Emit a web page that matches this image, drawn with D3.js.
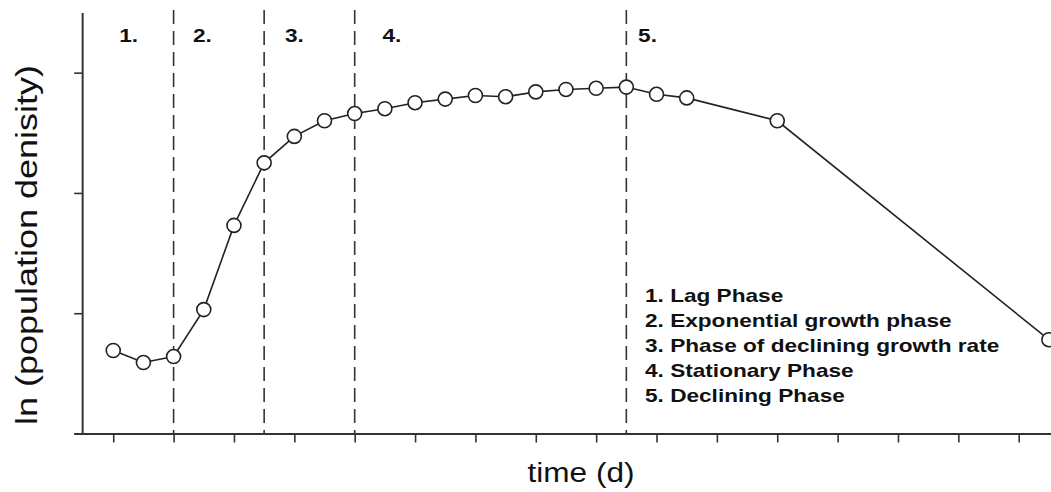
<!DOCTYPE html>
<html>
<head>
<meta charset="utf-8">
<script src="https://cdn.jsdelivr.net/npm/d3@7"></script>
<style>
  body { margin: 0; background: #fff; }
  text { font-family: "Liberation Sans", Arial, sans-serif; fill: #111; }
</style>
</head>
<body>
<div id="chart"></div>
<script>
////////////////////////////////////////////////////////////////
// Data

// time in days for each measured point
let days = [0, 1, 2, 3, 4, 5, 6, 7, 8, 9, 10, 11, 12, 13, 14, 15, 16, 17, 18, 19, 22, 31]

// ln (population density)
let lnDensity = [0.69, 0.59, 0.64, 1.03, 1.73, 2.25, 2.47, 2.60, 2.66, 2.70, 2.75, 2.78,
                 2.81, 2.80, 2.84, 2.86, 2.87, 2.88, 2.82, 2.79, 2.60, 0.78]

// phase boundaries (dashed lines)
let phaseBounds = [2, 5, 8, 17]

// phase numbers and where they start (in days)
let phaseNums = ["1.", "2.", "3.", "4.", "5."]
let phaseNumX = [0.2, 2.64, 5.69, 8.92, 17.39]

// legend lines
let legendLines = [
  "1. Lag Phase",
  "2. Exponential growth phase",
  "3. Phase of declining growth rate",
  "4. Stationary Phase",
  "5. Declining Phase"
]

let xTicks = d3.range(0, 31, 2)
let yTicks = [0, 1, 2, 3]

////////////////////////////////////////////////////////////////
// Setup

let width = 1051, height = 492

let svg = d3.select("#chart").append("svg")
  .attr("width", width)
  .attr("height", height)

let x = d3.scaleLinear().domain([-1.3, 31.07]).range([74, 1051])
let y = d3.scaleLinear().domain([0, 3.5]).range([433.5, 12.5])

// x axis
let xAxis = svg.append("g")
  .attr("transform", `translate(0,${y(0)})`)
  .call(d3.axisBottom(x).tickValues(xTicks).tickSize(9).tickSizeOuter(0).tickFormat(""))
xAxis.select(".domain").attr("stroke", "#333").attr("stroke-width", 2)
xAxis.selectAll(".tick line").attr("stroke", "#333").attr("stroke-width", 1.6)

// y axis sits a little left of day 0
let yAxis = svg.append("g")
  .attr("transform", `translate(${x(-1.03)},0)`)
  .call(d3.axisLeft(y).tickValues(yTicks).tickSize(8).tickSizeOuter(0).tickFormat(""))
yAxis.select(".domain").attr("stroke", "#333").attr("stroke-width", 2)
yAxis.selectAll(".tick line").attr("stroke", "#333").attr("stroke-width", 1.6)

// dashed phase boundaries
svg.selectAll("line.phase")
  .data(phaseBounds)
  .enter()
  .append("line")
  .attr("class", "phase")
  .attr("x1", d => x(d))
  .attr("x2", d => x(d))
  .attr("y1", 10)
  .attr("y2", y(0))
  .attr("stroke", "#333")
  .attr("stroke-width", 1.6)
  .attr("stroke-dasharray", "14,7")

// the image is a bit wider than tall, stretch text to match
let stretch = 1.19

function stretchText(sel) {
  sel.each(function() {
    let w = this.getComputedTextLength()
    d3.select(this).attr("textLength", w * stretch).attr("lengthAdjust", "spacingAndGlyphs")
  })
}

// phase numbers
svg.selectAll("text.phasenum")
  .data(phaseNums)
  .enter()
  .append("text")
  .attr("class", "phasenum")
  .attr("x", (d, i) => x(phaseNumX[i]))
  .attr("y", 42)
  .attr("font-size", 19)
  .attr("font-weight", "bold")
  .text(d => d)
  .call(stretchText)

// growth curve
let pts = days.map((d, i) => [x(d), y(lnDensity[i])])

svg.append("path")
  .attr("d", d3.line()(pts))
  .attr("fill", "none")
  .attr("stroke", "#222")
  .attr("stroke-width", 1.6)

svg.selectAll("circle")
  .data(pts)
  .enter()
  .append("circle")
  .attr("cx", d => d[0])
  .attr("cy", d => d[1])
  .attr("r", 7)
  .attr("fill", "#fff")
  .attr("stroke", "#222")
  .attr("stroke-width", 1.6)

// legend
svg.selectAll("text.legend")
  .data(legendLines)
  .enter()
  .append("text")
  .attr("class", "legend")
  .attr("x", 645)
  .attr("y", (d, i) => 301.5 + i * 25.2)
  .attr("font-size", 19)
  .attr("font-weight", "bold")
  .text(d => d)
  .call(stretchText)

// axis titles
svg.append("text")
  .attr("x", 581)
  .attr("y", 482)
  .attr("text-anchor", "middle")
  .attr("font-size", 27)
  .attr("textLength", 107)
  .attr("lengthAdjust", "spacingAndGlyphs")
  .text("time (d)")

svg.append("text")
  .attr("transform", "translate(37,245) rotate(-90)")
  .attr("text-anchor", "middle")
  .attr("font-size", 29)
  .attr("textLength", 360)
  .attr("lengthAdjust", "spacingAndGlyphs")
  .text("ln (population denisity)")
</script>
</body>
</html>
